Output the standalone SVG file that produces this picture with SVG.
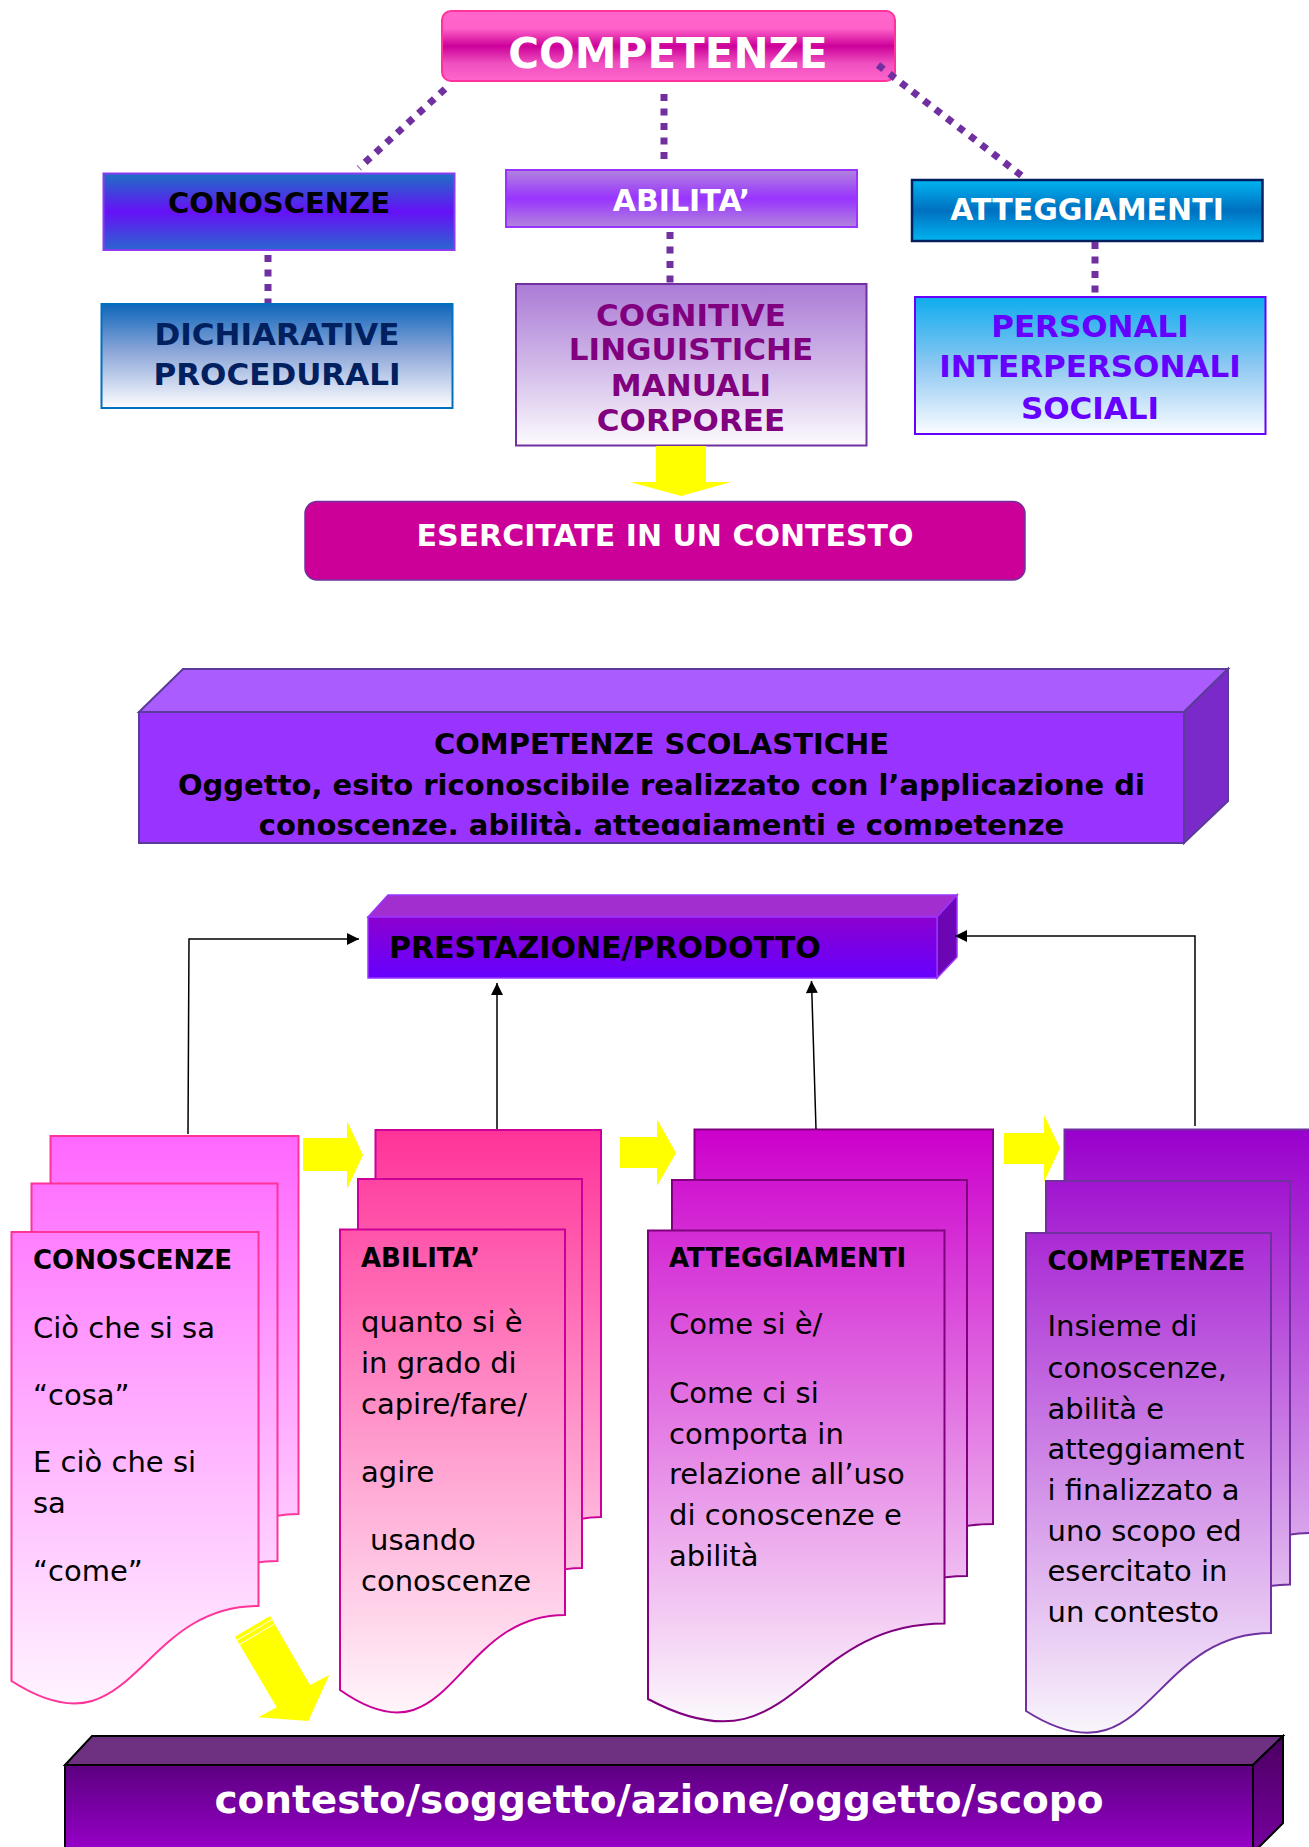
<svg xmlns="http://www.w3.org/2000/svg" width="1309" height="1847" viewBox="0 0 1309 1847">
<style>
text{font-family:"DejaVu Sans",Verdana,"Liberation Sans",sans-serif}
.b{font-weight:bold}
.c{text-anchor:middle}
.dot{fill:none;stroke:#7030a0;stroke-width:7;stroke-dasharray:7 7.5}
.con{fill:none;stroke:#000;stroke-width:1.5}
.yel{fill:#ffff00}
.body{font-size:29px;fill:#000}
.head{font-size:26px;font-weight:bold;fill:#000}
</style>
<defs>
<linearGradient id="gComp" x1="0" y1="0" x2="0" y2="1"><stop offset="0" stop-color="#ff66cc"/><stop offset="0.25" stop-color="#ff62c8"/><stop offset="0.5" stop-color="#cc0099"/><stop offset="0.75" stop-color="#f050c0"/><stop offset="1" stop-color="#ff66cc"/></linearGradient>
<linearGradient id="gCon" x1="0" y1="0" x2="0" y2="1"><stop offset="0" stop-color="#1d70c4"/><stop offset="0.5" stop-color="#6610f6"/><stop offset="1" stop-color="#2a66d0"/></linearGradient>
<linearGradient id="gAbi" x1="0" y1="0" x2="0" y2="1"><stop offset="0" stop-color="#b184dc"/><stop offset="0.5" stop-color="#9933ff"/><stop offset="1" stop-color="#b184dc"/></linearGradient>
<linearGradient id="gAtt" x1="0" y1="0" x2="0" y2="1"><stop offset="0" stop-color="#00b4f0"/><stop offset="0.5" stop-color="#0070c0"/><stop offset="1" stop-color="#00b4f0"/></linearGradient>
<linearGradient id="gDich" x1="0" y1="0" x2="0" y2="1"><stop offset="0" stop-color="#0e66bb"/><stop offset="0.45" stop-color="#8aa5d8"/><stop offset="1" stop-color="#fdfdff"/></linearGradient>
<linearGradient id="gCog" x1="0" y1="0" x2="0" y2="1"><stop offset="0" stop-color="#ab7bd6"/><stop offset="0.5" stop-color="#d0b8e8"/><stop offset="1" stop-color="#fcfbfe"/></linearGradient>
<linearGradient id="gPers" x1="0" y1="0" x2="0" y2="1"><stop offset="0" stop-color="#0eacee"/><stop offset="0.5" stop-color="#8ec8f2"/><stop offset="1" stop-color="#fbfdff"/></linearGradient>
<linearGradient id="gPrest" x1="0" y1="0" x2="0" y2="1"><stop offset="0" stop-color="#8b00cf"/><stop offset="1" stop-color="#6600ff"/></linearGradient>
<linearGradient id="gBar" x1="0" y1="0" x2="0" y2="1"><stop offset="0" stop-color="#5c0080"/><stop offset="1" stop-color="#9a00cc"/></linearGradient>
<linearGradient id="gBarR" x1="0" y1="0" x2="0" y2="1"><stop offset="0" stop-color="#4a0060"/><stop offset="1" stop-color="#7800a0"/></linearGradient>
<linearGradient id="s1" gradientUnits="userSpaceOnUse" x1="0" y1="1130" x2="0" y2="1720"><stop offset="0" stop-color="#ff66ff"/><stop offset="1" stop-color="#fff8ff"/></linearGradient>
<linearGradient id="s2" gradientUnits="userSpaceOnUse" x1="0" y1="1130" x2="0" y2="1720"><stop offset="0" stop-color="#ff3399"/><stop offset="1" stop-color="#fff8fc"/></linearGradient>
<linearGradient id="s3" gradientUnits="userSpaceOnUse" x1="0" y1="1130" x2="0" y2="1720"><stop offset="0" stop-color="#cc00cc"/><stop offset="1" stop-color="#fbf8fc"/></linearGradient>
<linearGradient id="s4" gradientUnits="userSpaceOnUse" x1="0" y1="1130" x2="0" y2="1740"><stop offset="0" stop-color="#9900cc"/><stop offset="1" stop-color="#faf8fc"/></linearGradient>
<marker id="arr" viewBox="0 0 10 10" refX="10" refY="5" markerUnits="userSpaceOnUse" markerWidth="16" markerHeight="12" orient="auto"><path d="M0,0 L10,5 L0,10 z" fill="#000"/></marker>
<clipPath id="clipSc"><rect x="139" y="712" width="1045" height="123"/></clipPath>
</defs>

<g id="competenze">
<rect x="442" y="11" width="453" height="70" rx="9" fill="url(#gComp)" stroke="#ff3399" stroke-width="2"/>
<text class="b c" x="668" y="68" font-size="42" fill="#fff">COMPETENZE</text>
</g>

<g id="conoscenze">
<rect x="103.5" y="173.5" width="351" height="76.5" fill="url(#gCon)" stroke="#8c3cf0" stroke-width="2"/>
<text class="b c" x="279" y="213" font-size="29" fill="#000">CONOSCENZE</text>
</g>

<g id="abilita">
<rect x="506" y="170" width="351" height="57" fill="url(#gAbi)" stroke="#9933ff" stroke-width="2"/>
<text class="b c" x="681.5" y="211" font-size="30" fill="#fff">ABILITA’</text>
</g>

<g id="atteggiamenti">
<rect x="912" y="180" width="350.5" height="61" fill="url(#gAtt)" stroke="#002060" stroke-width="2.5"/>
<text class="b c" x="1087" y="220" font-size="30" fill="#fff">ATTEGGIAMENTI</text>
</g>

<g id="dichiarative">
<rect x="101.5" y="304" width="351" height="104" fill="url(#gDich)" stroke="#0070c0" stroke-width="2"/>
<text class="b c" x="277" y="344.5" font-size="31" fill="#002060">DICHIARATIVE</text>
<text class="b c" x="277" y="385" font-size="31" fill="#002060">PROCEDURALI</text>
</g>

<g id="cognitive">
<rect x="516" y="284" width="350.5" height="161.5" fill="url(#gCog)" stroke="#7030a0" stroke-width="2"/>
<text class="b c" x="691" y="325.5" font-size="31" fill="#800080">COGNITIVE</text>
<text class="b c" x="691" y="360" font-size="31" fill="#800080">LINGUISTICHE</text>
<text class="b c" x="691" y="395.5" font-size="31" fill="#800080">MANUALI</text>
<text class="b c" x="691" y="431" font-size="31" fill="#800080">CORPOREE</text>
</g>

<g id="personali">
<rect x="915" y="297" width="350.5" height="137" fill="url(#gPers)" stroke="#6600ff" stroke-width="2"/>
<text class="b c" x="1090" y="337" font-size="31" fill="#6600ff">PERSONALI</text>
<text class="b c" x="1090" y="377" font-size="31" fill="#6600ff">INTERPERSONALI</text>
<text class="b c" x="1090" y="418.5" font-size="31" fill="#6600ff">SOCIALI</text>
</g>

<g id="esercitate">
<rect x="305" y="501.5" width="720" height="78.5" rx="12" fill="#cc0099" stroke="#7030a0" stroke-width="1.5"/>
<text class="b c" x="665" y="546" font-size="30" fill="#fff">ESERCITATE IN UN CONTESTO</text>
</g>

<g id="competenze-scolastiche">
<polygon points="139,712 183,669 1228,669 1184,712" fill="#aa5cff" stroke="#5a3a9a" stroke-width="2"/>
<polygon points="1184,712 1228,669 1228,801 1184,843" fill="#7a2ac8" stroke="#5a3a9a" stroke-width="2"/>
<rect x="139" y="712" width="1045" height="131" fill="#9933ff" stroke="#5a3a9a" stroke-width="2"/>
<text class="b c" x="661.5" y="754" font-size="29" fill="#000">COMPETENZE SCOLASTICHE</text>
<text class="b c" x="661.5" y="795" font-size="29" fill="#000">Oggetto, esito riconoscibile realizzato con l’applicazione di</text>
<text class="b c" x="661.5" y="835" font-size="29" fill="#000" clip-path="url(#clipSc)">conoscenze, abilità, atteggiamenti e competenze</text>
</g>

<g id="prestazione">
<polygon points="368,917 388,895 957,895 937,917" fill="#a22ed0" stroke="#9933ff" stroke-width="1.5"/>
<polygon points="937,917 957,895 957,957 937,978" fill="#6c06b4" stroke="#9933ff" stroke-width="1.5"/>
<rect x="368" y="917" width="569" height="61" fill="url(#gPrest)" stroke="#9933ff" stroke-width="1.5"/>
<text class="b" x="389" y="958" font-size="30" fill="#000">PRESTAZIONE/PRODOTTO</text>
</g>

<g id="stack-conoscenze" stroke="#ff3399" stroke-width="2" fill="url(#s1)">
<path d="M50.5,1136 H298.5 V1514 C174.5,1514 174.5,1668 50.5,1589 Z"/>
<path d="M31.5,1183.5 H277.5 V1561 C154.5,1561 154.5,1715 31.5,1636 Z"/>
<path d="M11.5,1232 H258.5 V1606 C135,1606 135,1760 11.5,1681 Z"/>
<text class="head" x="33" y="1269" stroke="none">CONOSCENZE</text>
<text class="body" x="33" y="1338" stroke="none">Ciò che si sa</text>
<text class="body" x="33" y="1405" stroke="none">“cosa”</text>
<text class="body" x="33" y="1472" stroke="none">E ciò che si</text>
<text class="body" x="33" y="1513" stroke="none">sa</text>
<text class="body" x="33" y="1581" stroke="none">“come”</text>
</g>

<g id="stack-abilita" stroke="#cc0099" stroke-width="2" fill="url(#s2)">
<path d="M375.5,1130 H601 V1517 C488,1517 488,1671 375.5,1592 Z"/>
<path d="M358,1179 H582 V1568 C470,1568 470,1722 358,1643 Z"/>
<path d="M340,1229.5 H565 V1615 C452.5,1615 452.5,1769 340,1690 Z"/>
<text class="head" x="361" y="1267" stroke="none">ABILITA’</text>
<text class="body" x="361" y="1332" stroke="none">quanto si è</text>
<text class="body" x="361" y="1373" stroke="none">in grado di</text>
<text class="body" x="361" y="1414" stroke="none">capire/fare/</text>
<text class="body" x="361" y="1482" stroke="none">agire</text>
<text class="body" x="370" y="1550" stroke="none">usando</text>
<text class="body" x="361" y="1591" stroke="none">conoscenze</text>
</g>

<g id="stack-atteggiamenti" stroke="#800080" stroke-width="2" fill="url(#s3)">
<path d="M694.5,1129.5 H993 V1524 C844,1524 844,1679 694.5,1600 Z"/>
<path d="M672,1180 H967 V1576 C819.5,1576 819.5,1731 672,1652 Z"/>
<path d="M648,1230.5 H944.5 V1623.5 C796,1623.5 796,1778 648,1699 Z"/>
<text class="head" x="669" y="1267" stroke="none">ATTEGGIAMENTI</text>
<text class="body" x="669" y="1334" stroke="none">Come si è/</text>
<text class="body" x="669" y="1403" stroke="none">Come ci si</text>
<text class="body" x="669" y="1444" stroke="none">comporta in</text>
<text class="body" x="669" y="1484" stroke="none">relazione all’uso</text>
<text class="body" x="669" y="1525" stroke="none">di conoscenze e</text>
<text class="body" x="669" y="1566" stroke="none">abilità</text>
</g>

<g id="stack-competenze" stroke="#7030a0" stroke-width="2" fill="url(#s4)">
<path d="M1064.5,1129.5 H1311 V1533 C1187.5,1533 1187.5,1690 1064.5,1611 Z"/>
<path d="M1046,1181 H1290 V1584.5 C1168,1584.5 1168,1741 1046,1662 Z"/>
<path d="M1026,1233 H1271 V1633 C1148.5,1633 1148.5,1789 1026,1711 Z"/>
<text class="head" x="1047.5" y="1270" stroke="none">COMPETENZE</text>
<text class="body" x="1047.5" y="1336" stroke="none">Insieme di</text>
<text class="body" x="1047.5" y="1377.5" stroke="none">conoscenze,</text>
<text class="body" x="1047.5" y="1418.5" stroke="none">abilità e</text>
<text class="body" x="1047.5" y="1459" stroke="none">atteggiament</text>
<text class="body" x="1047.5" y="1500" stroke="none">i finalizzato a</text>
<text class="body" x="1047.5" y="1540.5" stroke="none">uno scopo ed</text>
<text class="body" x="1047.5" y="1581" stroke="none">esercitato in</text>
<text class="body" x="1047.5" y="1621.5" stroke="none">un contesto</text>
</g>

<g id="contesto-bar">
<polygon points="65,1765 92,1736 1283,1736 1253,1765" fill="#6e3080" stroke="#000" stroke-width="2"/>
<polygon points="1253,1765 1283,1736 1283,1823 1253,1853" fill="url(#gBarR)" stroke="#000" stroke-width="2"/>
<rect x="65" y="1765" width="1188" height="90" fill="url(#gBar)" stroke="#000" stroke-width="2"/>
<text class="b c" x="659" y="1813" font-size="39" fill="#fff">contesto/soggetto/azione/oggetto/scopo</text>
</g>

<g id="connectors">
<path class="dot" d="M445,89 L359,168"/>
<path class="dot" d="M664,94 L664,166"/>
<path class="dot" d="M878,65 L1022,176"/>
<path class="dot" d="M268,255 L268,303"/>
<path class="dot" d="M670,232 L670,283"/>
<path class="dot" d="M1095,242 L1095,293"/>
<polygon class="yel" points="656,446 706,446 706,482 731,482 681,496 630,482 656,482"/>
<path class="con" d="M188,1134 L189,939 L359,939" marker-end="url(#arr)"/>
<path class="con" d="M497,1129 L497,983" marker-end="url(#arr)"/>
<path class="con" d="M816,1129 L811.5,981" marker-end="url(#arr)"/>
<path class="con" d="M1195,1126 L1195,936 L955,936" marker-end="url(#arr)"/>
<polygon class="yel" points="303,1138 347,1138 347,1121 363,1155 347,1189 347,1171 303,1171"/>
<polygon class="yel" points="620,1137 657,1137 657,1119 676,1153 657,1186 657,1168 620,1168"/>
<polygon class="yel" points="1004,1133 1044,1133 1044,1115 1060,1148 1044,1182 1044,1164 1004,1164"/>
<polygon class="yel" points="235,1636.7 270,1616 310,1685 329.3,1675 308.3,1721 258.3,1717.3 276.7,1707.3"/>
<path d="M237,1640.2 L272,1619.5 M239.5,1644.5 L274.5,1623.8" stroke="#fff" stroke-width="1"/>
</g>
</svg>
